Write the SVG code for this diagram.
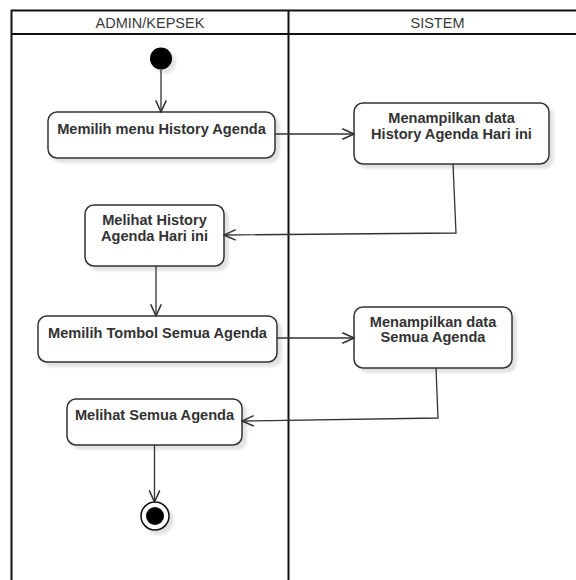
<svg xmlns="http://www.w3.org/2000/svg" width="576" height="580" viewBox="0 0 576 580">
<style>
.lane{fill:none;stroke:#111;stroke-width:2}
.hdr{font-family:"Liberation Sans",Arial,sans-serif;font-size:14.5px;fill:#3a3a3a;text-anchor:middle}
.act{fill:#fff;stroke:#333;stroke-width:1.5}
.lbl{font-family:"Liberation Sans",Arial,sans-serif;font-size:14.6px;font-weight:bold;fill:#333;text-anchor:middle}
.edge{fill:none;stroke:#333;stroke-width:1.3;marker-end:url(#open)}
</style>
<defs>
<marker id="open" markerUnits="userSpaceOnUse" markerWidth="14" markerHeight="14" viewBox="0 0 12 12" refX="11" refY="6" orient="auto">
<path d="M1,1.5 L11,6 L1,10.5" fill="none" stroke="#333" stroke-width="1.3"/>
</marker>
<filter id="sh" x="-10%" y="-10%" width="130%" height="140%">
<feGaussianBlur in="SourceAlpha" stdDeviation="1.5"/>
<feOffset dx="4" dy="4" result="o"/>
<feComponentTransfer><feFuncA type="linear" slope="0.12"/></feComponentTransfer>
<feMerge><feMergeNode/><feMergeNode in="SourceGraphic"/></feMerge>
</filter>
</defs>
<rect width="576" height="580" fill="#fff"/>
<g id="swimlanes">
<path class="lane" d="M11.5,580 V10.5 H590 M11.5,34 H590 M288.5,10.5 V580"/>
<text class="hdr" x="150" y="28">ADMIN/KEPSEK</text>
<text class="hdr" x="437.5" y="28">SISTEM</text>
</g>
<g id="start"><circle cx="161" cy="58.5" r="11" fill="#000" filter="url(#sh)"/></g>
<g id="act1"><rect class="act" x="48" y="112" width="227" height="46" rx="9" filter="url(#sh)"/>
<text class="lbl" x="161.5" y="133.5">Memilih menu History Agenda</text></g>
<g id="act2"><rect class="act" x="354" y="103" width="195" height="61" rx="9" filter="url(#sh)"/>
<text class="lbl" x="451.5" y="123">Menampilkan data</text>
<text class="lbl" x="451.5" y="138.5">History Agenda Hari ini</text></g>
<g id="act3"><rect class="act" x="85" y="205" width="139" height="61" rx="9" filter="url(#sh)"/>
<text class="lbl" x="154.5" y="225">Melihat History</text>
<text class="lbl" x="154.5" y="240.5">Agenda Hari ini</text></g>
<g id="act4"><rect class="act" x="38" y="316" width="239" height="46" rx="9" filter="url(#sh)"/>
<text class="lbl" x="157.5" y="337.5">Memilih Tombol Semua Agenda</text></g>
<g id="act5"><rect class="act" x="354" y="307" width="158" height="61" rx="9" filter="url(#sh)"/>
<text class="lbl" x="433" y="326.5">Menampilkan data</text>
<text class="lbl" x="433" y="342">Semua Agenda</text></g>
<g id="act6"><rect class="act" x="67" y="399" width="175" height="46" rx="9" filter="url(#sh)"/>
<text class="lbl" x="154.5" y="419.5">Melihat Semua Agenda</text></g>
<g id="end"><circle cx="155" cy="516" r="14" fill="#fff" stroke="#111" stroke-width="1.5" filter="url(#sh)"/>
<circle cx="155" cy="516" r="9" fill="#000"/></g>
<g id="connectors">
<path class="edge" d="M161,69.5 V112"/>
<path class="edge" d="M275,134 H354"/>
<path class="edge" d="M453,164 L456,233 L224,235"/>
<path class="edge" d="M156,266 V316"/>
<path class="edge" d="M277,338 H354"/>
<path class="edge" d="M436,368 L438,418 L242,421"/>
<path class="edge" d="M154.5,445 V502"/>
</g>
</svg>
